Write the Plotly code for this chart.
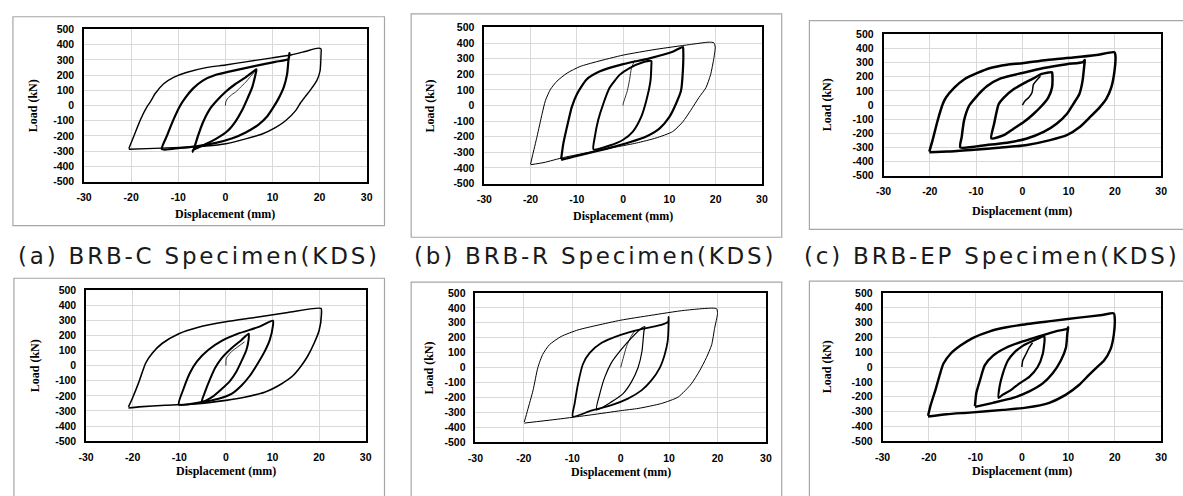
import plotly.graph_objects as go

W, H = 1183, 496

# ---------------- text / ticks ----------------
X_TICKS = [-30, -20, -10, 0, 10, 20, 30]
Y_TICKS = [-500, -400, -300, -200, -100, 0, 100, 200, 300, 400, 500]
X_TITLE = "Displacement (mm)"
Y_TITLE = "Load (kN)"
CAPTIONS = ["(a) BRB-C Specimen(KDS)", "(b) BRB-R Specimen(KDS)", "(c) BRB-EP Specimen(KDS)"]

# ---------------- data (displacement mm, load kN) ----------------
# (a)
A_INIT = [(0, 0), (0.1, 25), (0.5, 47), (1.5, 75), (2.2, 89), (3.2, 120), (4.3, 153), (5.3, 190), (6.1, 217)]
A_SMALL = [(-6.9, -304), (-5.8, -198), (-4.8, -113), (-3.4, -28), (-2.0, 26), (0, 89), (2.2, 143), (4.3, 185),
           (6.4, 234), (6.6, 238), (6.4, 206), (5.7, 121), (4.7, 47), (3.6, -28), (2.2, -102), (0.5, -166),
           (-2.0, -219), (-4.4, -257), (-6.9, -294), (-6.9, -304)]
A_MID = [(-13.5, -287), (-12.4, -198), (-11.0, -91), (-9.7, -6), (-8.6, 47), (-6.9, 111), (-4.8, 164), (-2.0, 202),
         (1.5, 228), (6.4, 260), (10.6, 287), (13.4, 306), (13.6, 345), (13.4, 302), (13.1, 206), (12.4, 121),
         (11.3, 47), (10.3, -6), (8.9, -70), (7.1, -123), (4.3, -177), (1.5, -215), (-2.0, -245), (-6.2, -268),
         (-9.7, -279), (-13.5, -287)]
A_LARGE = [(-20.5, -283), (-19.4, -198), (-18.0, -91), (-16.6, -6), (-15.9, 26), (-14.9, 79), (-13.1, 143),
           (-11.0, 185), (-8.3, 217), (-4.1, 249), (0, 266), (4.3, 287), (9.9, 313), (14.1, 334), (16.9, 355),
           (19.7, 377), (20.3, 372), (20.3, 334), (20.1, 228), (19.4, 164), (18.0, 100), (17.0, 60), (16.0, 20),
           (15.0, -30), (12.7, -102), (10.6, -145), (7.8, -187), (4.3, -219), (0.1, -251), (-4.1, -266),
           (-11.0, -277), (-16.6, -283), (-20.5, -287)]
# (b)
B_INIT = [(0, 0), (0, 10), (0.9, 94), (1.4, 167), (1.8, 240), (2.5, 290)]
B_SMALL = [(-6.4, -281), (-6.1, -198), (-5.4, -94), (-4.3, 10), (-2.9, 115), (-0.7, 198), (1.4, 240), (4.3, 277),
           (6.1, 285), (6.1, 260), (5.9, 156), (5.0, 31), (3.9, -73), (2.1, -167), (0, -219), (-2.9, -256),
           (-6.4, -281)]
B_MID = [(-13.4, -344), (-12.9, -240), (-11.8, -94), (-11.1, -10), (-10.0, 73), (-7.9, 167), (-5.0, 219), (0, 265),
         (5.7, 302), (10.7, 344), (12.9, 375), (13.0, 344), (12.9, 219), (12.5, 94), (11.4, 10), (10.0, -73),
         (7.9, -146), (5.0, -198), (1.4, -235), (-2.9, -271), (-7.1, -302), (-10.7, -327), (-13.4, -348)]
B_LARGE = [(-20.0, -375), (-19.6, -323), (-18.6, -198), (-17.5, -52), (-16.8, 31), (-15.7, 104), (-14.3, 156),
           (-12.1, 208), (-9.3, 250), (-5.7, 281), (0, 323), (7.1, 360), (14.3, 390), (18.6, 406), (19.6, 402),
           (19.9, 375), (19.6, 302), (18.9, 198), (17.9, 115), (16.4, 52), (14.6, -31), (12.9, -104),
           (10.7, -167), (7.1, -208), (2.9, -240), (-1.4, -265), (-7.1, -298), (-12.9, -333), (-17.1, -365),
           (-20.0, -379)]
# (c)
C_INIT = [(0, 0), (0.6, 30), (1.4, 53), (2.1, 88), (2.4, 146), (3.9, 204)]
C_SMALL = [(-6.7, -236), (-6.1, -132), (-5.1, 7), (-4.0, 53), (-1.9, 111), (0.3, 153), (2.4, 188), (4.2, 220),
           (6.4, 231), (6.5, 204), (6.4, 123), (5.6, 53), (4.2, -5), (2.4, -63), (0.3, -120), (-1.9, -167),
           (-4.0, -213), (-6.7, -236)]
C_MID = [(-13.4, -299), (-13.1, -225), (-12.6, -109), (-11.5, -5), (-10.1, 53), (-7.6, 134), (-4.7, 188), (0, 227),
         (4.6, 262), (9.6, 289), (13.1, 303), (13.5, 319), (13.4, 285), (13.0, 169), (12.3, 76), (11.0, 7),
         (9.6, -63), (7.4, -132), (4.6, -190), (1.0, -236), (-3.3, -266), (-7.6, -282), (-13.4, -299)]
C_LARGE = [(-20.1, -329), (-19.4, -248), (-18.3, -109), (-17.2, 7), (-16.5, 53), (-14.7, 123), (-12.6, 181),
           (-9.7, 227), (-6.9, 262), (-3.3, 285), (0, 296), (5.3, 319), (11.0, 336), (16.0, 354), (19.9, 373),
           (20.1, 354), (19.9, 238), (19.2, 123), (18.1, 42), (16.7, -16), (14.6, -86), (12.4, -155),
           (9.6, -213), (6.0, -248), (1.0, -282), (-4.0, -299), (-11.1, -317), (-16.1, -329), (-20.1, -333)]
# (d)
D_INIT = [(0, 0), (0.1, 49), (1.2, 92), (2.6, 125), (4.0, 157)]
D_SMALL = [(-5.2, -241), (-4.5, -176), (-3.4, -90), (-2.3, -15), (-0.9, 49), (1.2, 114), (3.3, 168), (4.9, 211),
           (4.9, 178), (4.4, 103), (3.5, 39), (2.3, -37), (0.9, -101), (-0.9, -155), (-3.0, -209), (-5.2, -241)]
D_MID = [(-10.1, -258), (-9.1, -155), (-7.7, -47), (-6.2, 28), (-3.8, 103), (-0.9, 163), (2.6, 211), (6.9, 254),
         (10.1, 297), (10.1, 265), (9.4, 168), (8.3, 92), (6.9, 17), (5.1, -69), (3.3, -133), (1.2, -187),
         (-1.6, -219), (-5.2, -241), (-10.1, -258)]
D_LARGE = [(-20.9, -273), (-20.1, -219), (-18.7, -112), (-17.2, 17), (-15.8, 82), (-13.7, 146), (-10.1, 211),
           (-5.9, 254), (0, 290), (6.2, 318), (13.3, 351), (20.4, 378), (20.5, 340), (20.0, 232), (18.9, 146),
           (17.5, 60), (16.1, -4), (14.3, -69), (11.8, -123), (8.3, -176), (4.0, -209), (0, -230), (-5.9, -252),
           (-13.0, -262), (-18.7, -273), (-20.9, -280)]
# (e)
E_INIT = [(0, 0), (0.5, 60), (1.2, 140), (2.0, 200), (3.0, 250)]
E_SMALL = [(-5.0, -284), (-4.3, -175), (-3.3, -66), (-1.9, 33), (0.1, 120), (2.2, 197), (4.3, 263), (5.0, 274),
           (4.8, 241), (4.4, 109), (3.6, 0), (2.2, -98), (0.5, -175), (-1.9, -230), (-5.0, -284)]
E_MID = [(-9.9, -328), (-9.5, -241), (-8.8, -109), (-7.8, 22), (-6.4, 98), (-4.0, 164), (0, 219), (4.3, 258),
         (7.7, 280), (9.8, 306), (9.9, 339), (9.9, 295), (9.7, 175), (9.1, 88), (8.1, 0), (6.3, -88), (4.3, -153),
         (1.5, -208), (-1.9, -252), (-6.1, -289), (-9.9, -328)]
E_LARGE = [(-19.9, -365), (-19.2, -284), (-18.1, -153), (-17.1, 0), (-16.1, 88), (-14.7, 153), (-12.3, 208),
           (-8.8, 252), (-4.7, 284), (0, 317), (6.3, 350), (13.2, 383), (19.8, 394), (20.0, 361), (19.4, 263),
           (18.8, 153), (17.7, 66), (16.3, -22), (14.6, -109), (11.9, -197), (8.4, -241), (3.6, -274), (0, -289),
           (-6.1, -317), (-13.0, -346), (-19.9, -372)]
# (f)
F_INIT = [(0, 0), (0.2, 44), (0.9, 88), (1.6, 132), (2.3, 164)]
F_SMALL = [(-5.0, -208), (-4.8, -132), (-4.1, -44), (-3.0, 44), (-1.6, 99), (0.2, 143), (2.3, 175), (4.8, 208),
           (4.9, 186), (4.5, 88), (3.4, 0), (1.6, -66), (-0.5, -110), (-2.3, -154), (-4.1, -186), (-5.0, -208)]
F_MID = [(-10.1, -263), (-9.8, -175), (-9.0, -88), (-8.0, 11), (-6.2, 77), (-3.3, 132), (0, 171), (3.8, 208),
         (7.3, 241), (9.8, 259), (10.0, 268), (9.8, 230), (9.5, 132), (8.4, 44), (6.6, -44), (4.5, -110),
         (1.6, -164), (-1.9, -208), (-6.2, -241), (-10.1, -268)]
F_LARGE = [(-20.2, -329), (-19.7, -263), (-18.6, -154), (-17.6, -44), (-16.9, 22), (-15.4, 88), (-13.3, 143),
           (-10.5, 197), (-6.9, 241), (-3.3, 268), (0, 285), (6.6, 311), (12.3, 333), (17.3, 351), (19.8, 362),
           (20.0, 329), (19.8, 219), (19.1, 121), (17.7, 44), (16.2, 0), (14.4, -55), (12.3, -121), (9.5, -186),
           (5.9, -241), (0.9, -274), (-4.1, -289), (-11.2, -307), (-16.2, -318), (-20.2, -333)]

# ---------------- layout config (pixels) ----------------
PANELS = [
    dict(curves=[(A_LARGE, 1.4), (A_MID, 2.2), (A_SMALL, 2.2), (A_INIT, 0.8)],
         plot=(77, 363, 24, 180), box=(5, 381, 11, 225), xtitle_y=213, ytitle_x=25),
    dict(curves=[(B_LARGE, 1.0), (B_MID, 2.2), (B_SMALL, 2.0), (B_INIT, 0.8)],
         plot=(482, 763, 22, 182), box=(408, 783, 8, 237), xtitle_y=215, ytitle_x=427),
    dict(curves=[(C_LARGE, 2.5), (C_MID, 2.5), (C_SMALL, 2.5), (C_INIT, 1.5)],
         plot=(886, 1167, 29, 174), box=(811, 1195, 15, 229), xtitle_y=210, ytitle_x=829),
    dict(curves=[(D_LARGE, 1.6), (D_MID, 2.0), (D_SMALL, 2.0), (D_INIT, 0.8)],
         plot=(79, 362, 291, 446), box=(6, 381, 279, 505), xtitle_y=477, ytitle_x=27),
    dict(curves=[(E_LARGE, 1.0), (E_MID, 1.8), (E_SMALL, 1.2), (E_INIT, 0.8)],
         plot=(473, 767, 294, 447), box=(408, 783, 283, 505), xtitle_y=478, ytitle_x=426),
    dict(curves=[(F_LARGE, 2.4), (F_MID, 2.4), (F_SMALL, 2.2), (F_INIT, 1.5)],
         plot=(885, 1167, 294, 446), box=(811, 1195, 282, 505), xtitle_y=477, ytitle_x=829),
]
CAPTION_POS = [(193, 256), (594, 256), (996, 256)]

fig = go.Figure()
shapes, annotations = [], []
tickfont = dict(family="Liberation Sans, Arial", size=10.5, color="black")
titlefont = dict(family="Liberation Serif, Times New Roman", size=12, color="black", weight="bold")

for i, p in enumerate(PANELS):
    sid = "" if i == 0 else str(i + 1)
    for pts, w in p["curves"]:
        xs = [q[0] for q in pts]
        ys = [q[1] for q in pts]
        fig.add_trace(go.Scatter(x=xs, y=ys, mode="lines",
                                 line=dict(color="black", width=w, shape="spline", smoothing=0.6),
                                 xaxis="x" + sid, yaxis="y" + sid, showlegend=False, hoverinfo="skip"))
    l, r, t, b = p["plot"]
    common = dict(showgrid=True, gridcolor="#d9d9d9", gridwidth=1, zeroline=False, showline=True,
                  linecolor="black", linewidth=1.6, mirror=True, ticks="", tickfont=tickfont,
                  fixedrange=True)
    fig.update_layout(**{
        "xaxis" + sid: dict(domain=[l / W, r / W], range=[-30, 30], tickvals=X_TICKS,
                            ticktext=["<b>%d</b>" % v for v in X_TICKS], ticklabelstandoff=5,
                            anchor="y" + sid, **common),
        "yaxis" + sid: dict(domain=[1 - b / H, 1 - t / H], range=[-500, 500], tickvals=Y_TICKS,
                            ticktext=["<b>%d</b>" % v for v in Y_TICKS], ticklabelstandoff=6,
                            anchor="x" + sid, **common),
    })
    bl, br, bt, bb = p["box"]
    shapes.append(dict(type="rect", xref="paper", yref="paper", x0=bl / W, x1=br / W,
                       y0=1 - bb / H, y1=1 - bt / H, line=dict(color="#a6a6a6", width=1.2),
                       fillcolor="rgba(0,0,0,0)", layer="below"))
    annotations.append(dict(text=X_TITLE, xref="paper", yref="paper", x=(l + r) / 2 / W,
                            y=1 - p["xtitle_y"] / H, showarrow=False, xanchor="center", yanchor="middle",
                            font=titlefont))
    annotations.append(dict(text=Y_TITLE, xref="paper", yref="paper", x=p["ytitle_x"] / W,
                            y=1 - (t + b) / 2 / H, showarrow=False, xanchor="center", yanchor="middle",
                            textangle=-90, font=titlefont))

for cap, (cx, cy) in zip(CAPTIONS, CAPTION_POS):
    annotations.append(dict(text='<span style="letter-spacing:2.8px">' + cap + "</span>",
                            xref="paper", yref="paper", x=cx / W, y=1 - cy / H, showarrow=False,
                            xanchor="center", yanchor="middle",
                            font=dict(family="DejaVu Sans", size=23, color="#1a1a1a")))

fig.update_layout(width=W, height=H, margin=dict(l=0, r=0, t=0, b=0, pad=0),
                  paper_bgcolor="white", plot_bgcolor="white",
                  shapes=shapes, annotations=annotations)

fig.write_html("out.html", config={"displayModeBar": False})
